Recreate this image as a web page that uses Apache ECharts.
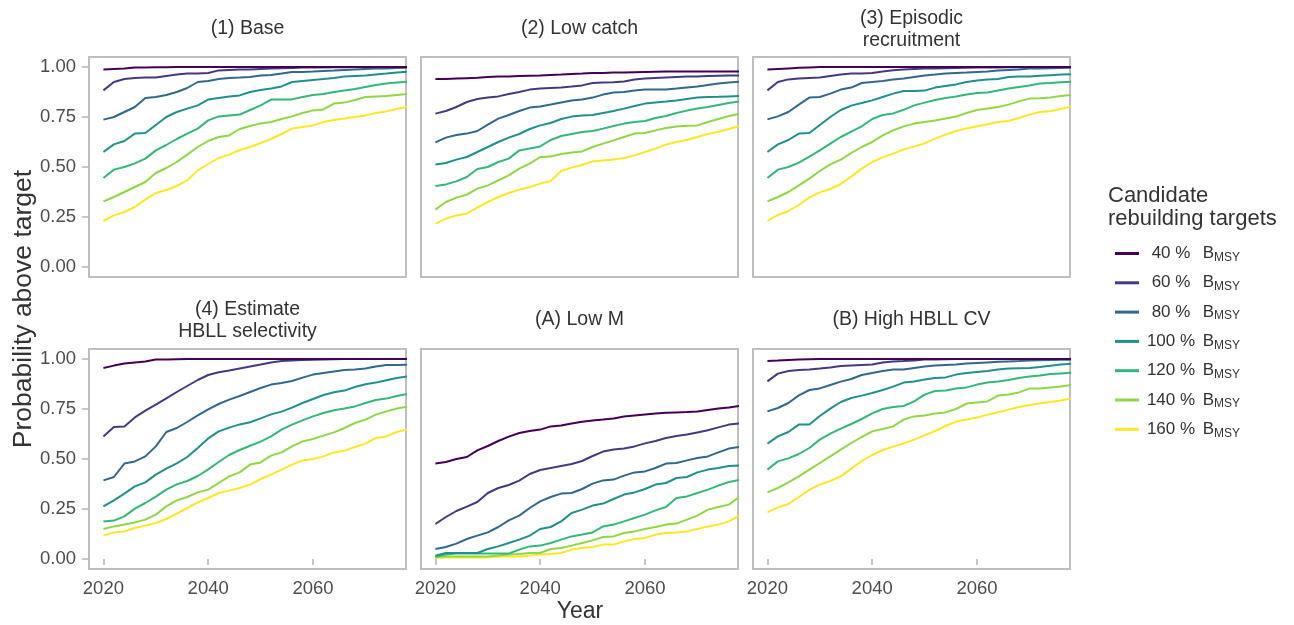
<!DOCTYPE html>
<html><head><meta charset="utf-8">
<script src="https://cdn.jsdelivr.net/npm/echarts@6/dist/echarts.min.js"></script>
<style>html,body{margin:0;padding:0;background:#fff}#c{width:1294px;height:625px}</style>
</head><body><div id="c"></div>
<script>
// ---- data ----
const years = [2020,2022,2024,2026,2028,2030,2032,2034,2036,2038,2040,2042,2044,2046,2048,2050,2052,2054,2056,2058,2060,2062,2064,2066,2068,2070,2072,2074,2076,2078];
const targetLabels = ['40','60','80','100','120','140','160'];
const panelTitles = ['(1) Base','(2) Low catch','(3) Episodic\nrecruitment','(4) Estimate\nHBLL selectivity','(A) Low M','(B) High HBLL CV'];
const yTicks = [0,0.25,0.5,0.75,1];
const xTicks = [2020,2040,2060];

// (1) Base
const p1_40  = [.987,.99,.993,.997,.998,.999,.999,1,1,1,1,1,1,1,1,1,1,1,1,1,1,1,1,1,1,1,1,1,1,1];
const p1_60  = [.883,.925,.94,.945,.947,.947,.955,.963,.968,.968,.97,.983,.985,.987,.988,.99,.992,.994,.995,.997,.998,.998,.999,.999,1,1,1,1,1,1];
const p1_80  = [.737,.75,.775,.80,.845,.85,.86,.875,.895,.925,.93,.94,.945,.947,.95,.957,.96,.967,.975,.975,.977,.98,.982,.985,.988,.99,.992,.993,.995,.996];
const p1_100 = [.575,.613,.63,.667,.67,.71,.75,.775,.792,.808,.837,.845,.852,.858,.875,.885,.893,.903,.925,.93,.935,.94,.945,.952,.955,.958,.963,.967,.972,.976];
const p1_120 = [.445,.487,.50,.518,.542,.583,.61,.64,.667,.692,.733,.753,.758,.762,.785,.808,.837,.837,.838,.85,.86,.865,.875,.883,.89,.90,.91,.917,.923,.926];
const p1_140 = [.328,.35,.375,.40,.425,.47,.495,.525,.562,.60,.63,.65,.658,.69,.705,.718,.725,.74,.753,.77,.783,.788,.817,.822,.835,.85,.853,.855,.86,.865];
const p1_160 = [.23,.258,.275,.30,.337,.37,.385,.405,.433,.483,.515,.545,.562,.585,.60,.62,.64,.665,.692,.70,.708,.725,.735,.742,.75,.758,.77,.778,.79,.802];
// (2) Low catch
const p2_40  = [.94,.94,.942,.944,.946,.95,.952,.953,.955,.956,.957,.96,.962,.965,.967,.97,.97,.972,.973,.974,.975,.976,.977,.977,.978,.978,.978,.978,.978,.978];
const p2_60  = [.767,.78,.80,.825,.84,.847,.853,.865,.875,.887,.892,.895,.898,.902,.908,.92,.922,.924,.928,.937,.942,.945,.948,.95,.952,.953,.955,.956,.957,.958];
const p2_80  = [.623,.647,.66,.667,.68,.712,.742,.76,.78,.797,.803,.812,.822,.832,.837,.847,.862,.872,.875,.882,.887,.887,.888,.892,.898,.903,.91,.917,.922,.927];
const p2_100 = [.513,.52,.537,.55,.575,.60,.625,.647,.665,.69,.708,.72,.74,.752,.758,.76,.77,.78,.792,.805,.817,.822,.827,.833,.84,.847,.85,.851,.853,.855];
const p2_120 = [.405,.413,.428,.45,.49,.50,.525,.542,.583,.592,.603,.635,.655,.665,.675,.68,.692,.705,.717,.725,.73,.745,.755,.77,.782,.792,.80,.81,.82,.828];
const p2_140 = [.287,.325,.347,.362,.392,.408,.433,.458,.492,.517,.55,.552,.565,.572,.578,.60,.617,.633,.65,.667,.67,.683,.695,.703,.706,.708,.725,.74,.755,.765];
const p2_160 = [.217,.242,.258,.267,.297,.325,.35,.37,.387,.40,.417,.43,.48,.497,.51,.528,.533,.538,.545,.558,.575,.592,.612,.625,.635,.65,.665,.676,.69,.705];
// (3) Episodic recruitment
const p3_40  = [.987,.99,.993,.996,.998,1,1,1,1,1,1,1,1,1,1,1,1,1,1,1,1,1,1,1,1,1,1,1,1,1];
const p3_60  = [.883,.925,.938,.943,.945,.947,.955,.962,.967,.968,.97,.978,.984,.987,.99,.992,.993,.994,.995,.996,.997,.998,.998,.999,.999,1,1,1,1,1];
const p3_80  = [.738,.753,.775,.812,.847,.85,.867,.887,.897,.92,.925,.93,.937,.942,.95,.958,.962,.967,.97,.972,.975,.978,.982,.985,.988,.992,.993,.994,.995,.996];
const p3_100 = [.575,.613,.635,.667,.67,.71,.75,.785,.807,.82,.833,.85,.867,.88,.88,.882,.897,.905,.913,.925,.933,.937,.94,.95,.952,.953,.956,.959,.962,.964];
const p3_120 = [.445,.487,.50,.522,.552,.583,.617,.65,.677,.703,.74,.76,.768,.786,.808,.822,.835,.845,.852,.862,.87,.873,.882,.892,.90,.908,.917,.92,.924,.926];
const p3_140 = [.328,.35,.375,.408,.442,.48,.513,.537,.57,.60,.625,.658,.683,.703,.717,.725,.733,.742,.752,.77,.785,.792,.80,.812,.828,.842,.844,.848,.855,.86];
const p3_160 = [.23,.26,.28,.31,.348,.373,.39,.415,.452,.492,.525,.548,.567,.588,.602,.618,.642,.662,.68,.693,.704,.714,.725,.73,.745,.762,.775,.78,.79,.803];
// (4) Estimate HBLL selectivity
const p4_40  = [.955,.967,.977,.983,.987,.997,.998,.999,1,1,1,1,1,1,1,1,1,1,1,1,1,1,1,1,1,1,1,1,1,1];
const p4_60  = [.613,.66,.663,.708,.742,.772,.803,.835,.865,.895,.92,.934,.943,.953,.963,.972,.983,.99,.993,.995,.996,.997,.999,1,1,1,1,1,1,1];
const p4_80  = [.393,.41,.477,.488,.513,.563,.635,.655,.685,.718,.748,.775,.797,.815,.835,.855,.872,.88,.89,.907,.922,.93,.938,.945,.948,.952,.963,.97,.97,.971];
const p4_100 = [.263,.293,.327,.363,.383,.422,.452,.478,.51,.555,.603,.638,.657,.673,.684,.703,.723,.737,.757,.78,.80,.82,.834,.842,.86,.874,.882,.894,.905,.913];
const p4_120 = [.188,.192,.213,.252,.28,.312,.347,.373,.39,.415,.448,.485,.52,.545,.566,.587,.613,.647,.672,.693,.713,.73,.744,.752,.763,.78,.795,.802,.815,.825];
const p4_140 = [.15,.163,.172,.183,.197,.222,.263,.293,.31,.333,.347,.38,.413,.433,.472,.483,.517,.533,.563,.588,.60,.617,.633,.655,.68,.697,.722,.738,.752,.762];
const p4_160 = [.117,.133,.138,.155,.167,.18,.20,.227,.255,.283,.305,.33,.342,.355,.372,.40,.422,.447,.472,.493,.50,.513,.533,.542,.56,.577,.605,.613,.635,.648];
// (A) Low M
const p5_40  = [.477,.485,.50,.51,.543,.565,.59,.612,.63,.64,.647,.663,.668,.677,.686,.693,.697,.703,.712,.717,.722,.727,.731,.733,.735,.738,.745,.752,.758,.765];
const p5_60  = [.175,.21,.24,.262,.285,.33,.355,.37,.392,.425,.445,.455,.465,.475,.49,.515,.537,.548,.553,.563,.578,.59,.605,.615,.622,.633,.644,.658,.672,.678];
const p5_80  = [.05,.06,.077,.10,.117,.133,.16,.193,.217,.255,.288,.31,.327,.33,.35,.377,.393,.397,.417,.433,.438,.455,.477,.48,.493,.505,.513,.533,.552,.56];
const p5_100 = [.017,.03,.03,.03,.03,.05,.063,.08,.097,.117,.15,.16,.188,.23,.247,.267,.277,.30,.322,.333,.35,.372,.38,.405,.41,.433,.447,.455,.465,.468];
const p5_120 = [.013,.022,.027,.027,.027,.027,.027,.027,.047,.063,.067,.08,.097,.113,.122,.133,.163,.172,.188,.205,.222,.243,.26,.305,.313,.33,.347,.367,.385,.395];
const p5_140 = [.01,.012,.013,.013,.013,.013,.017,.022,.025,.03,.03,.05,.055,.067,.08,.093,.11,.113,.13,.138,.15,.16,.172,.177,.197,.217,.247,.26,.272,.31];
const p5_160 = [.005,.007,.008,.008,.008,.008,.013,.013,.013,.017,.022,.025,.03,.047,.055,.06,.072,.072,.088,.10,.105,.122,.13,.133,.138,.15,.163,.172,.188,.218];
// (B) High HBLL CV
const p6_40  = [.99,.992,.995,.997,.999,1,1,1,1,1,1,1,1,1,1,1,1,1,1,1,1,1,1,1,1,1,1,1,1,1];
const p6_60  = [.888,.927,.94,.945,.948,.952,.958,.965,.968,.97,.972,.982,.988,.99,.993,.997,.998,.999,1,1,1,1,1,1,1,1,1,1,1,1];
const p6_80  = [.738,.755,.78,.818,.845,.853,.87,.887,.90,.92,.93,.94,.947,.947,.955,.962,.967,.97,.973,.977,.98,.983,.986,.988,.99,.993,.994,.995,.996,.996];
const p6_100 = [.577,.613,.635,.672,.672,.715,.752,.785,.805,.817,.83,.845,.862,.882,.888,.897,.905,.908,.922,.93,.935,.94,.947,.952,.954,.955,.96,.966,.972,.976];
const p6_120 = [.447,.488,.503,.525,.555,.597,.627,.652,.675,.70,.728,.75,.76,.765,.788,.822,.84,.842,.852,.858,.872,.883,.888,.895,.905,.912,.918,.925,.928,.931];
const p6_140 = [.333,.355,.383,.413,.447,.48,.513,.547,.58,.61,.638,.65,.663,.697,.713,.718,.727,.733,.75,.777,.783,.788,.817,.822,.833,.852,.852,.857,.862,.87];
const p6_160 = [.233,.258,.275,.31,.345,.372,.39,.413,.452,.49,.52,.545,.562,.578,.597,.618,.64,.665,.687,.697,.707,.722,.734,.747,.76,.77,.778,.785,.793,.803];

const panelData = [
  [p1_40,p1_60,p1_80,p1_100,p1_120,p1_140,p1_160],
  [p2_40,p2_60,p2_80,p2_100,p2_120,p2_140,p2_160],
  [p3_40,p3_60,p3_80,p3_100,p3_120,p3_140,p3_160],
  [p4_40,p4_60,p4_80,p4_100,p4_120,p4_140,p4_160],
  [p5_40,p5_60,p5_80,p5_100,p5_120,p5_140,p5_160],
  [p6_40,p6_60,p6_80,p6_100,p6_120,p6_140,p6_160]
];

// ---- styling / layout ----
const colors = ['#440154','#443A83','#31688E','#21908C','#35B779','#8FD744','#FDE725'];
const FONT = '"Liberation Sans", Arial, sans-serif';
const colLeft = [89, 421, 753], rowTop = [57, 349], PW = 317, PH = 220;
const tickColor = '#b3b3b3', labelColor = '#4d4d4d', borderColor = '#bebebe';

const grids = [], xAxes = [], yAxes = [], series = [], titles = [];
for (let i = 0; i < 6; i++) {
  const r = Math.floor(i / 3), c = i % 3;
  grids.push({left: colLeft[c], top: rowTop[r], width: PW, height: PH, show: true,
    borderColor: borderColor, borderWidth: 2, backgroundColor: '#fff', containLabel: false});
  xAxes.push({type: 'value', gridIndex: i, min: 2017.25, max: 2077.75,
    axisLine: {show: false}, splitLine: {show: false},
    axisTick: {show: r === 1, customValues: xTicks, length: 6, lineStyle: {color: tickColor, width: 1.5}},
    axisLabel: {show: r === 1, customValues: xTicks, margin: 10, color: labelColor, fontSize: 18.5, fontFamily: FONT,
      formatter: v => String(v)}});
  yAxes.push({type: 'value', gridIndex: i, min: -0.05, max: 1.05,
    axisLine: {show: false}, splitLine: {show: false},
    axisTick: {show: c === 0, customValues: yTicks, length: 7, lineStyle: {color: tickColor, width: 1.5}},
    axisLabel: {show: c === 0, customValues: yTicks, margin: 13, color: labelColor, fontSize: 18.5, fontFamily: FONT,
      formatter: v => v.toFixed(2)}});
  const twoLine = panelTitles[i].indexOf('\n') >= 0;
  titles.push({text: panelTitles[i], left: colLeft[c] + PW / 2, top: (r === 0 ? 8 : 299) + (twoLine ? 0 : 10),
    textAlign: 'center', padding: 0,
    textStyle: {fontSize: 19.5, fontWeight: 'normal', color: '#333', fontFamily: FONT, lineHeight: 22}});
  panelData[i].forEach((arr, k) => {
    series.push({type: 'line', name: targetLabels[k], xAxisIndex: i, yAxisIndex: i,
      data: years.map((y, j) => [y, arr[j]]), symbol: 'none', showSymbol: false, clip: true,
      lineStyle: {width: 2, color: colors[k]}, itemStyle: {color: colors[k]}, emphasis: {disabled: true}, silent: true, z: 10 - k});
  });
}

const option = {
  animation: false,
  backgroundColor: '#fff',
  title: titles,
  grid: grids, xAxis: xAxes, yAxis: yAxes, series: series,
  legend: {orient: 'vertical', left: 1110, top: 240, itemWidth: 24, itemHeight: 3, itemGap: 10.8,
    icon: 'rect', data: targetLabels, selectedMode: false,
    formatter: n => '{n|' + n + ' %}{b| B}{s|MSY}',
    textStyle: {fontFamily: FONT, color: '#333', rich: {
      n: {fontSize: 17, width: 54, align: 'right', lineHeight: 20, fontFamily: FONT, color: '#333'},
      b: {fontSize: 17, lineHeight: 20, fontFamily: FONT, color: '#333'},
      s: {fontSize: 12, lineHeight: 12, verticalAlign: 'bottom', fontFamily: FONT, color: '#333'}
    }}},
  graphic: [
    {type: 'text', x: 24, y: 309, rotation: Math.PI / 2, style: {text: 'Probability above target', font: '26.5px ' + FONT, fill: '#333', align: 'center', verticalAlign: 'middle'}},
    {type: 'text', x: 580, y: 612, style: {text: 'Year', font: '23px ' + FONT, fill: '#333', align: 'center', verticalAlign: 'middle'}},
    {type: 'text', x: 1108, y: 184, style: {text: 'Candidate\nrebuilding targets', font: '22px ' + FONT, fill: '#333', lineHeight: 23, align: 'left', verticalAlign: 'top'}}
  ]
};
const chart = echarts.init(document.getElementById('c'), null, {renderer: 'canvas'});
chart.setOption(option);
</script></body></html>
